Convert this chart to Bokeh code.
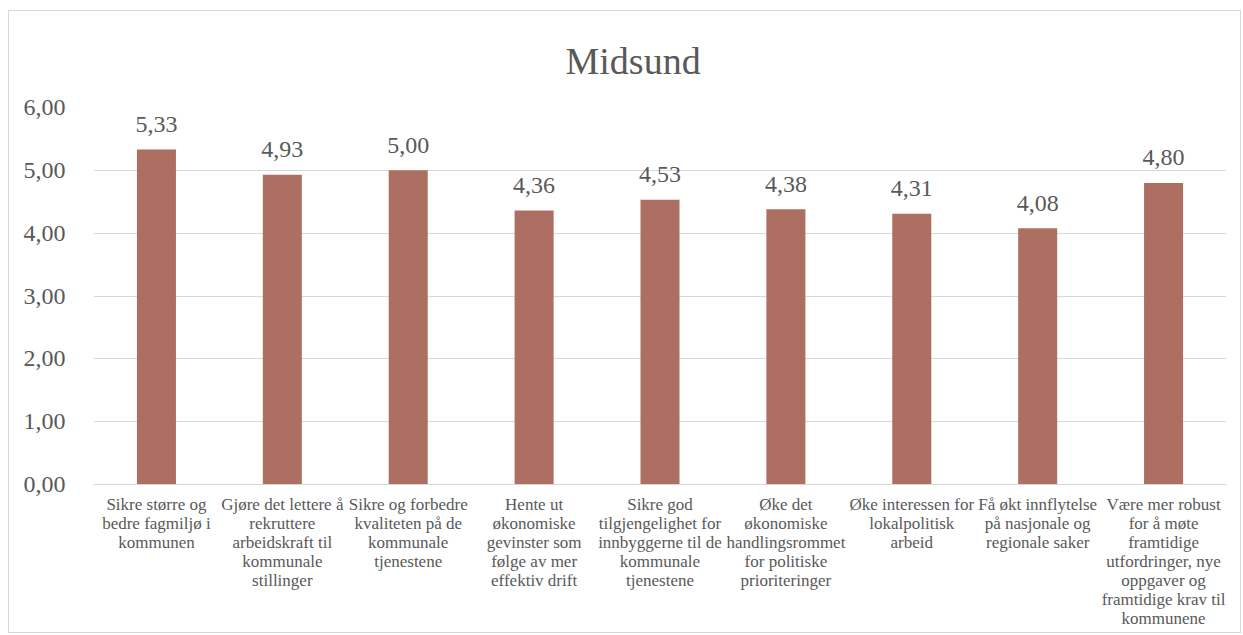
from bokeh.plotting import figure
from bokeh.models import ColumnDataSource, CustomJSTickFormatter, FactorRange, CategoricalAxis
from bokeh.core.properties import value
from bokeh.embed import file_html
from bokeh.resources import INLINE

title_text = "Midsund"
categories = [
    "Sikre større og bedre fagmiljø i kommunen",
    "Gjøre det lettere å rekruttere arbeidskraft til kommunale stillinger",
    "Sikre og forbedre kvaliteten på de kommunale tjenestene",
    "Hente ut økonomiske gevinster som følge av mer effektiv drift",
    "Sikre god tilgjengelighet for innbyggerne til de kommunale tjenestene",
    "Øke det økonomiske handlingsrommet for politiske prioriteringer",
    "Øke interessen for lokalpolitisk arbeid",
    "Få økt innflytelse på nasjonale og regionale saker",
    "Være mer robust for å møte framtidige utfordringer, nye oppgaver og framtidige krav til kommunene",
]
tick_labels = [
    "Sikre større og\nbedre fagmiljø i\nkommunen",
    "Gjøre det lettere å\nrekruttere\narbeidskraft til\nkommunale\nstillinger",
    "Sikre og forbedre\nkvaliteten på de\nkommunale\ntjenestene",
    "Hente ut\nøkonomiske\ngevinster som\nfølge av mer\neffektiv drift",
    "Sikre god\ntilgjengelighet for\ninnbyggerne til de\nkommunale\ntjenestene",
    "Øke det\nøkonomiske\nhandlingsrommet\nfor politiske\nprioriteringer",
    "Øke interessen for\nlokalpolitisk\narbeid",
    "Få økt innflytelse\npå nasjonale og\nregionale saker",
    "Være mer robust\nfor å møte\nframtidige\nutfordringer, nye\noppgaver og\nframtidige krav til\nkommunene",
]
values = [5.33, 4.93, 5.00, 4.36, 4.53, 4.38, 4.31, 4.08, 4.80]

FONT = "Liberation Serif"
TEXT = "#595959"
GRID = "#d9d9d9"
BAR = "#AD6F62"

src = ColumnDataSource(dict(
    cat=categories,
    val=values,
    lab=[f"{v:.2f}".replace(".", ",") for v in values],
))

p = figure(
    width=1233, height=623,
    x_range=FactorRange(*categories, range_padding=0),
    y_range=(0, 6),
    output_backend="svg", toolbar_location=None,
    min_border_left=84, min_border_right=16, min_border_top=96, min_border_bottom=150,
)
p.margin = (10, 0, 0, 8)
p.styles = {"border": "1px solid #d9d9d9"}
p.outline_line_color = None

p.title.text = title_text
p.title.align = "left"
p.title.offset = 472
p.title.vertical_align = "bottom"
p.title.standoff = 51
p.title.text_font = FONT
p.title.text_font_size = "38px"
p.title.text_font_style = "normal"
p.title.text_color = TEXT

p.vbar(x="cat", top="val", width=0.31, source=src, fill_color=BAR, line_color=None)
p.text(x="cat", y="val", text="lab", source=src, text_align="center",
       text_baseline="alphabetic", y_offset=-25, text_font=value(FONT),
       text_font_size="24px", text_color=TEXT)

p.xgrid.grid_line_color = None
p.ygrid.grid_line_color = GRID
p.ygrid.grid_line_width = 1

p.yaxis.ticker = [0, 1, 2, 3, 4, 5, 6]
p.yaxis.formatter = CustomJSTickFormatter(code="return tick.toFixed(2).replace('.', ',');")
p.yaxis.axis_line_color = None
p.yaxis.major_tick_line_color = None
p.yaxis.minor_tick_line_color = None
p.yaxis.major_label_text_font = FONT
p.yaxis.major_label_text_font_size = "24px"
p.yaxis.major_label_text_color = TEXT
p.yaxis.major_label_standoff = 22

# category labels: one axis per text line, stacked below the frame
split = [t.split("\n") for t in tick_labels]
n_lines = max(len(s) for s in split)


def style_x(ax, k):
    ax.major_tick_line_color = None
    ax.minor_tick_line_color = None
    ax.major_tick_in = 0
    ax.major_tick_out = 0
    ax.major_label_text_font = FONT
    ax.major_label_text_font_size = "17px"
    ax.major_label_text_color = TEXT
    ax.major_label_orientation = "horizontal"
    lines = {c: (s[k] if k < len(s) else "") for c, s in zip(categories, split)}
    ax.formatter = CustomJSTickFormatter(args=dict(lines=lines),
                                         code="const v = lines[tick]; return v == null ? '' : v;")


xa = p.xaxis[0]
xa.axis_line_color = GRID
xa.axis_line_width = 1
style_x(xa, 0)
xa.major_label_standoff = 10
for k in range(1, n_lines):
    ax = CategoricalAxis()
    ax.axis_line_color = None
    style_x(ax, k)
    ax.major_label_standoff = -3
    p.add_layout(ax, "below")

open("out.html", "w").write(file_html(p, INLINE))
